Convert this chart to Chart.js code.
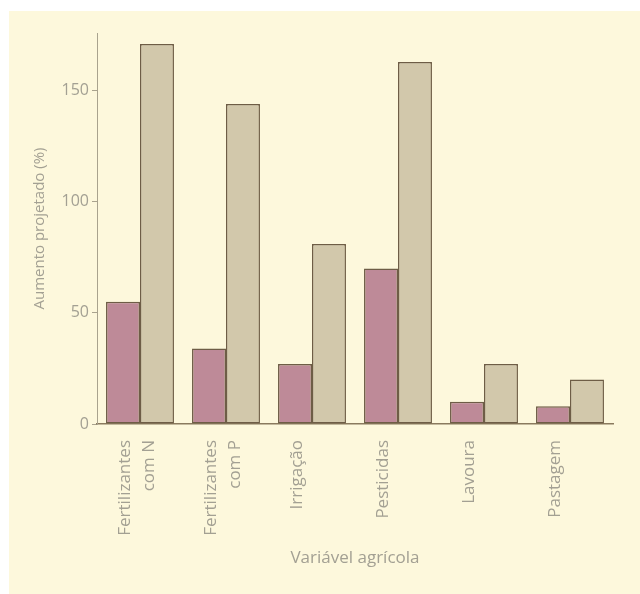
<!DOCTYPE html>
<html>
<head>
<meta charset="utf-8">
<script src="https://cdn.jsdelivr.net/npm/chart.js@4"></script>
<style>
  body { margin: 0; background: #ffffff; }
  #panel { position: absolute; left: 9px; top: 11px; width: 631px; height: 583px; background: #fdf8dc; }
</style>
</head>
<body>
<div id="panel"><canvas id="chart"></canvas></div>
<script>
// categories and values
const categories = [['Fertilizantes', 'com N'], ['Fertilizantes', 'com P'], 'Irrigação', 'Pesticidas', 'Lavoura', 'Pastagem'];
const seriesA = [55, 34, 27, 70, 10, 8];
const seriesB = [171, 144, 81, 163, 27, 20];
const yTicks = [0, 50, 100, 150];

const grey = '#a3a093';
const edge = '#6e5d46';

const ctx = document.getElementById('chart').getContext('2d');
new Chart(ctx, {
    type: 'bar',
    data: {
        labels: categories,
        datasets: [{
            data: seriesA,
            backgroundColor: '#be8a98',
            borderColor: edge,
            borderWidth: 1.5,
            borderSkipped: false
        }, {
            data: seriesB,
            backgroundColor: '#d2c8ab',
            borderColor: edge,
            borderWidth: 1.5,
            borderSkipped: false
        }]
    },
    options: {
        responsive: true,
        maintainAspectRatio: false,
        animation: false,
        layout: { padding: { top: 22, right: 27, bottom: 0, left: 0 } },
        plugins: {
            legend: { display: false },
            tooltip: { enabled: false }
        },
        datasets: {
            bar: { categoryPercentage: 0.79, barPercentage: 1.0 }
        },
        scales: {
            x: {
                grid: { display: false },
                border: { display: true, color: '#8a7a5e', width: 1.5 },
                ticks: {
                    color: grey,
                    font: { family: 'Open Sans', size: 17, lineHeight: 1.45 },
                    minRotation: 90,
                    maxRotation: 90,
                    autoSkip: false,
                    labelOffset: -15,
                    padding: 8
                },
                title: {
                    display: true,
                    text: 'Variável agrícola',
                    color: grey,
                    font: { family: 'Open Sans', size: 17 },
                    padding: { bottom: 26 }
                },
                afterFit: function(scale) { scale.height = 170; }
            },
            y: {
                min: 0,
                max: 176,
                grid: { drawOnChartArea: false, drawTicks: true, tickLength: 5, color: '#a9a38e' },
                border: { display: true, color: '#a9a38e', width: 1 },
                ticks: {
                    stepSize: 50,
                    color: grey,
                    font: { family: 'Open Sans', size: 16 },
                    padding: 3
                },
                afterBuildTicks: function(scale) {
                    scale.ticks = yTicks.map(v => ({ value: v }));
                },
                title: {
                    display: true,
                    text: 'Aumento projetado (%)',
                    color: grey,
                    font: { family: 'Open Sans', size: 15 },
                    padding: { top: 22 }
                },
                afterFit: function(scale) { scale.width = 88; }
            }
        }
    }
});
</script>
</body>
</html>
